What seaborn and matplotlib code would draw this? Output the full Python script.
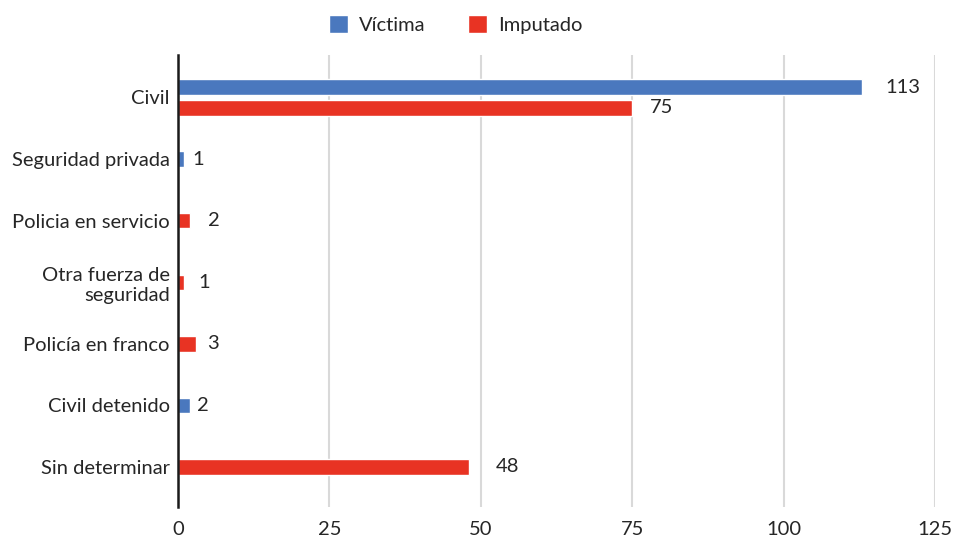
import matplotlib
matplotlib.use("Agg")
import matplotlib.pyplot as plt
from matplotlib.patches import Patch
import matplotlib.colors as mcolors
import seaborn as sns
import pandas as pd
import numpy as np

# --- datos ---
categorias = ["Civil", "Seguridad privada", "Policia en servicio",
              "Otra fuerza de\nseguridad", "Policía en franco",
              "Civil detenido", "Sin determinar"]
victima = [113, 1, None, None, None, 2, None]
imputado = [75, None, 2, 1, 3, None, 48]
series = ["Víctima", "Imputado"]
x_ticks = [0, 25, 50, 75, 100, 125]

colores = {"Víctima": "#4A78BE", "Imputado": "#E83323"}
texto = "#262626"

# separacion de las etiquetas de valor (pixeles)
pad_etiqueta = {
    ("Civil", "Víctima"): 23, ("Civil", "Imputado"): 18,
    ("Seguridad privada", "Víctima"): 8,
    ("Policia en servicio", "Imputado"): 18,
    ("Otra fuerza de\nseguridad", "Imputado"): 14,
    ("Policía en franco", "Imputado"): 11,
    ("Civil detenido", "Víctima"): 7,
    ("Sin determinar", "Imputado"): 27,
}

filas = []
for cat, v, i in zip(categorias, victima, imputado):
    if v is not None:
        filas.append({"categoria": cat, "serie": "Víctima", "valor": v})
    if i is not None:
        filas.append({"categoria": cat, "serie": "Imputado", "valor": i})
df = pd.DataFrame(filas)
n_series = df.groupby("categoria")["serie"].transform("count")
df_doble = df[n_series > 1]
df_simple = df[n_series == 1]

fs = 14.5
sns.set_style("white")
plt.rcParams["font.family"] = ["Lato", "DejaVu Sans"]
plt.rcParams["font.size"] = fs

fig = plt.figure(figsize=(9.6, 5.38), dpi=100)
ax = fig.add_axes([0.1854, 0.0576, 0.7885, 0.8402])

sns.barplot(data=df_doble, x="valor", y="categoria", hue="serie",
            order=categorias, hue_order=series, palette=colores,
            dodge=True, width=0.672, gap=0.256, saturation=1,
            legend=False, ax=ax)
sns.barplot(data=df_simple, x="valor", y="categoria", hue="serie",
            order=categorias, hue_order=series, palette=colores,
            dodge=False, width=0.25, saturation=1,
            legend=False, ax=ax)

ax.set_xlim(0, 125)
ax.set_ylim(6.65, -0.69)
ax.set_xticks(x_ticks)
ax.set_xlabel("")
ax.set_ylabel("")
ax.grid(axis="x", color="#d9d9d9", linewidth=1.5)
ax.set_axisbelow(True)
for s in ["top", "right", "bottom"]:
    ax.spines[s].set_visible(False)
ax.spines["left"].set_color("#1a1a1a")
ax.spines["left"].set_linewidth(1.8)
ax.tick_params(axis="both", length=0, colors=texto, labelsize=fs)
ax.tick_params(axis="x", pad=10)
ax.tick_params(axis="y", pad=6)
for lbl in ax.get_yticklabels():
    lbl.set_multialignment("right")

# etiquetas de valor
for p in ax.patches:
    w = p.get_width()
    if np.isnan(w) or w == 0:
        continue
    yc = p.get_y() + p.get_height() / 2
    cat = categorias[int(round(yc))]
    serie = "Víctima" if mcolors.same_color(p.get_facecolor(), colores["Víctima"]) else "Imputado"
    pad = pad_etiqueta.get((cat, serie), 12)
    ax.annotate(f"{int(w)}", xy=(w, yc), xytext=(pad * 0.72, 0),
                textcoords="offset points", ha="left", va="center",
                color=texto, fontsize=fs)

handles = [Patch(facecolor=colores[s], label=s) for s in series]
fig.legend(handles=handles, loc="center", bbox_to_anchor=(0.475, 0.955),
           ncol=2, frameon=False, fontsize=fs, handlelength=0.95,
           handleheight=1.0, handletextpad=0.55, columnspacing=2.1,
           labelcolor=texto)

fig.savefig("out.png", dpi=100)
